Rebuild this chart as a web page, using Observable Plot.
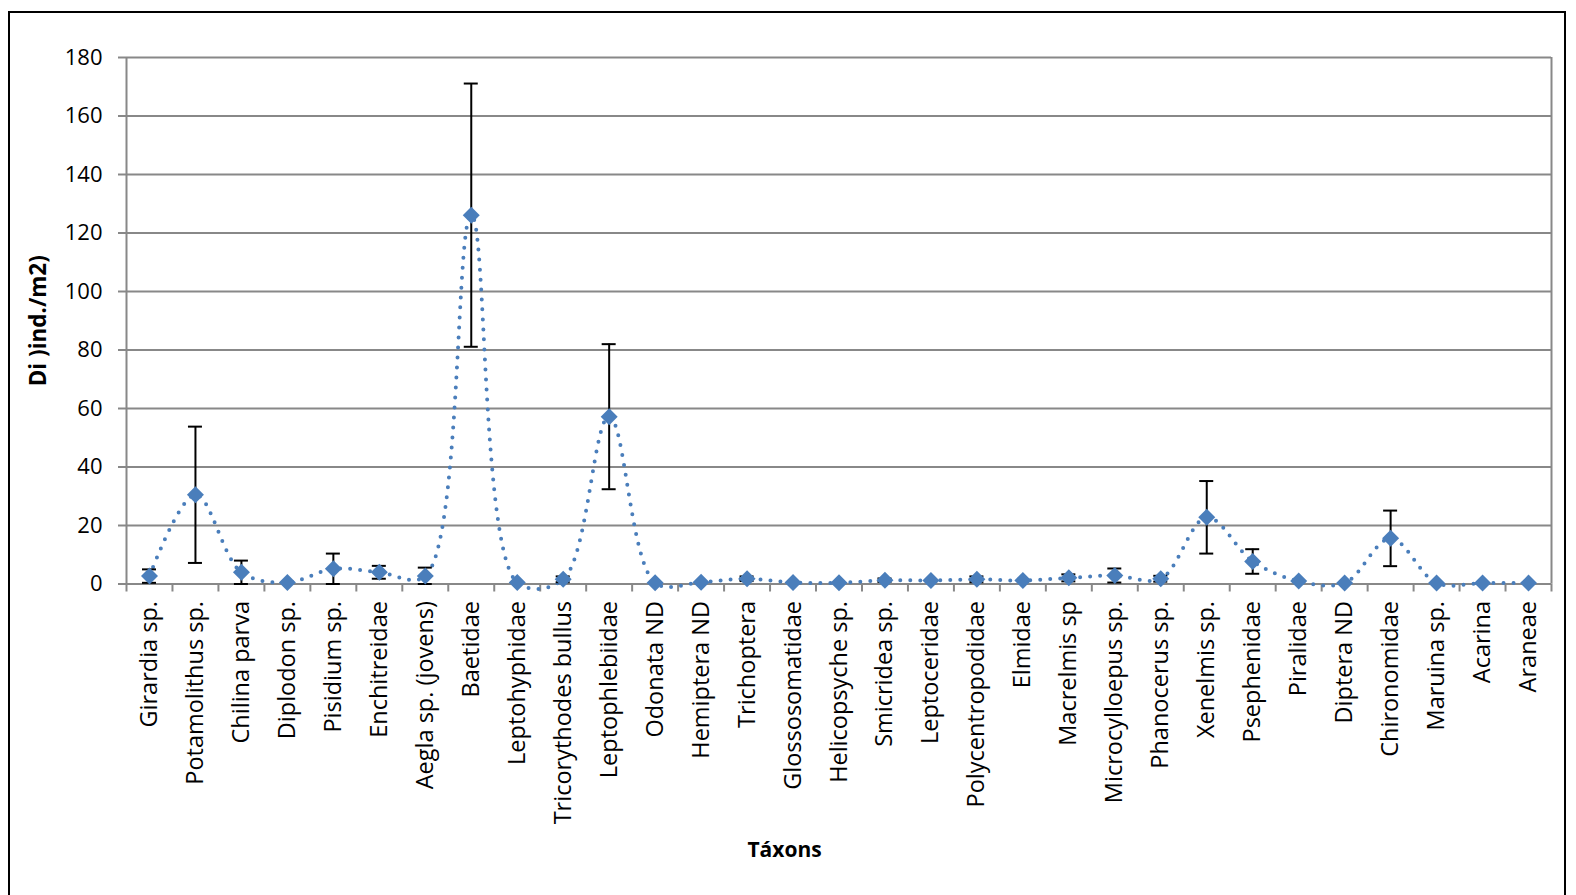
<!DOCTYPE html>
<html>
<head>
<meta charset="utf-8">
<script src="https://cdn.jsdelivr.net/npm/d3@7"></script>
<script src="https://cdn.jsdelivr.net/npm/@observablehq/plot@0.6"></script>
<style>
  html, body { margin: 0; padding: 0; background: #fff; overflow: hidden; }
  #wrap { position: relative; width: 1576px; height: 895px; }
  #wrap svg { position: absolute; left: 0; top: 0; }
  #border { position: absolute; left: 8px; top: 11px; width: 1558px; height: 900px; border: 2px solid #000; box-sizing: border-box; pointer-events: none; }
</style>
</head>
<body>
<div id="wrap"><div id="border"></div></div>
<script>
const taxa = ["Girardia sp.", "Potamolithus sp.", "Chilina parva", "Diplodon sp.", "Pisidium sp.", "Enchitreidae", "Aegla sp. (jovens)", "Baetidae", "Leptohyphidae", "Tricorythodes bullus", "Leptophlebiidae", "Odonata ND", "Hemiptera ND", "Trichoptera", "Glossosomatidae", "Helicopsyche sp.", "Smicridea sp.", "Leptoceridae", "Polycentropodidae", "Elmidae", "Macrelmis sp", "Microcylloepus sp.", "Phanocerus sp.", "Xenelmis sp.", "Psephenidae", "Piralidae", "Diptera ND", "Chironomidae", "Maruina sp.", "Acarina", "Araneae"];
const meanDi = [2.7, 30.5, 4.0, 0.5, 5.2, 4.0, 2.7, 126.1, 0.5, 1.6, 57.2, 0.4, 0.6, 1.8, 0.5, 0.4, 1.3, 1.2, 1.6, 1.2, 2.1, 2.9, 1.8, 22.8, 7.7, 1.0, 0.3, 15.6, 0.3, 0.3, 0.3];
const errDi  = [2.3, 23.3, 4.0, 0, 5.2, 2.2, 2.9, 45, 0, 1.0, 24.8, 0, 0, 0.8, 0, 0, 0.6, 0, 1.0, 0, 1.2, 2.4, 1.0, 12.4, 4.2, 0, 0, 9.5, 0, 0, 0];
const yTicks = [0, 20, 40, 60, 80, 100, 120, 140, 160, 180];

// category index -> position on a linear x scale (band centres at i + 0.5)
const rows = taxa.map((t, i) => ({taxon: t, pos: i + 0.5, v: meanDi[i], lo: Math.max(0, meanDi[i] - errDi[i]), hi: meanDi[i] + errDi[i], e: errDi[i]}));
const errRows = rows.filter(d => d.e > 0);
const bounds = d3.range(taxa.length + 1);

const X0 = 126, X1 = 1551;
const blue = "#4a7ebb";
const grid = "#888888";

const diamond = {
  draw(context, size) {
    const h = Math.sqrt(size / Math.PI);
    context.moveTo(0, -h);
    context.lineTo(h, 0);
    context.lineTo(0, h);
    context.lineTo(-h, 0);
    context.closePath();
  }
};

const chart = Plot.plot({
  width: 1576,
  height: 895,
  marginLeft: X0,
  marginRight: 1576 - X1,
  marginTop: 57,
  marginBottom: 895 - 583.5,
  style: {fontFamily: "'Open Sans', sans-serif", background: "transparent"},
  x: {type: "linear", domain: [0, taxa.length], range: [X0, X1], axis: null},
  y: {domain: [0, 180], range: [583.5, 57], axis: null},
  marks: [
    // gridlines
    Plot.ruleY(yTicks, {y: d => d, x1: () => 0, x2: () => taxa.length, stroke: grid, strokeWidth: 2}),
    // left axis line and right plot edge
    Plot.ruleX([0], {x: d => d, y1: () => 0, y2: () => 180, stroke: grid, strokeWidth: 2}),
    Plot.ruleX([taxa.length], {x: d => d, y1: () => 0, y2: () => 180, stroke: grid, strokeWidth: 2}),
    // y ticks
    Plot.ruleY(yTicks, {y: d => d, x1: () => 0, x2: () => 0, insetLeft: -8, stroke: grid, strokeWidth: 2}),
    // x category boundary ticks
    Plot.ruleX(bounds, {x: d => d, y1: () => 0, y2: () => 0, insetBottom: -8, stroke: grid, strokeWidth: 2}),
    // y tick labels
    Plot.text(yTicks, {x: () => 0, y: d => d, text: d => String(d), dx: -24, textAnchor: "end", fontSize: 22, fill: "#000"}),
    // x tick labels
    Plot.text(rows, {x: "pos", y: () => 0, text: "taxon", rotate: -90, textAnchor: "end", dy: 17, fontSize: 23.5, fill: "#000"}),
    // series line
    Plot.line(rows, {x: "pos", y: "v", stroke: blue, strokeWidth: 4, strokeDasharray: "0 10", strokeLinecap: "round", curve: "catmull-rom"}),
    // error bars
    Plot.ruleX(errRows, {x: "pos", y1: "lo", y2: "hi", stroke: "#000", strokeWidth: 2}),
    Plot.ruleY(errRows, {y: "hi", x1: "pos", x2: "pos", insetLeft: -7, insetRight: -7, stroke: "#000", strokeWidth: 2}),
    Plot.ruleY(errRows, {y: "lo", x1: "pos", x2: "pos", insetLeft: -7, insetRight: -7, stroke: "#000", strokeWidth: 2}),
    // markers
    Plot.dot(rows, {x: "pos", y: "v", r: 8.5, symbol: diamond, fill: blue, stroke: "none"}),
    // axis titles
    Plot.text(["Di )ind./m2)"], {frameAnchor: "left", textAnchor: "middle", lineAnchor: "middle", dx: -88, rotate: -90, fontSize: 22.5, fontWeight: "bold", fill: "#000"}),
    Plot.text(["Táxons"], {frameAnchor: "bottom", textAnchor: "middle", lineAnchor: "middle", dx: 784 - (X0 + X1) / 2, dy: 850 - 583.5, fontSize: 21, fontWeight: "bold", fill: "#000"})
  ]
});
document.getElementById("wrap").prepend(chart);
</script>
</body>
</html>
